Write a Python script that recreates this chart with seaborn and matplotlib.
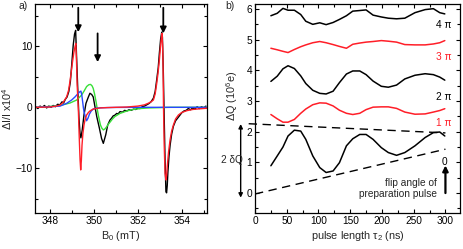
import numpy as np
import matplotlib
matplotlib.use("Agg")
import matplotlib.pyplot as plt
from matplotlib.ticker import MultipleLocator
import seaborn as sns

# -------------------------------------------------
# Panel a) spectra (values read from the figure)
# -------------------------------------------------
b_exp = [347.35, 347.45, 347.55, 347.65, 347.75, 347.85, 347.95, 348.05, 348.15,
         348.25, 348.35, 348.45, 348.55, 348.62, 348.7, 348.78, 348.86, 348.93,
         348.99, 349.06, 349.12, 349.17, 349.21, 349.26, 349.32, 349.37, 349.41,
         349.47, 349.55, 349.64, 349.75, 349.82, 349.9, 349.97, 350.05, 350.13,
         350.25, 350.35, 350.43, 350.54, 350.63, 350.73, 350.8, 350.88, 350.95,
         351.04, 351.1, 351.19, 351.3, 351.4, 351.5, 351.6, 351.7, 351.8, 351.9,
         352.0, 352.1, 352.2, 352.3, 352.4, 352.5, 352.6, 352.71, 352.79, 352.86,
         352.93, 352.98, 353.04, 353.09, 353.12, 353.16, 353.2, 353.24, 353.28,
         353.31, 353.34, 353.37, 353.42, 353.47, 353.54, 353.62, 353.72, 353.85,
         354.0, 354.1, 354.2, 354.3, 354.4, 354.5, 354.6, 354.7, 354.8, 354.9,
         355.0, 355.1]
signal_exp = [0.1, -0.2, 0.2, 0.0, 0.3, -0.1, 0.2, 0.0, 0.3,
              0.1, 0.5, 0.4, 0.9, 0.7, 1.3, 1.7, 2.6, 4.2,
              6.9, 10.2, 12.0, 12.6, 8.5, 3.6, -1.7, -4.3, -5.0,
              -3.7, -1.25, 0.65, 1.7, 2.3, 2.1, 1.7, 0.1, -1.5,
              -3.4, -5.1, -5.9, -4.5, -2.9, -2.1, -1.8, -1.4, -1.3,
              -1.0, -1.1, -0.7, -0.8, -0.5, -0.6, -0.4, -0.5, -0.3, -0.35,
              -0.15, -0.2, 0.1, 0.2, 0.4, 0.6, 0.9, 1.5, 2.6, 4.5,
              6.5, 8.8, 11.2, 12.3, 11.5, 6.0, -1.5, -8.6, -13.8,
              -14.0, -12.8, -10.6, -8.0, -6.2, -4.4, -3.1, -2.2, -1.6,
              -0.9, -0.6, -0.5, -0.2, -0.4, -0.1, -0.3, 0.1, -0.2, 0.1,
              -0.1, 0.2]

b_red = [347.35, 348.0, 348.3, 348.46, 348.6, 348.76, 348.85, 348.91, 348.97,
         349.03, 349.09, 349.14, 349.18, 349.21, 349.24, 349.29, 349.33, 349.37,
         349.4, 349.43, 349.46, 349.5, 349.55, 349.6, 349.67, 349.75, 349.82,
         349.97, 350.28, 350.6, 351.0, 351.5, 352.0, 352.3, 352.5, 352.62,
         352.71, 352.79, 352.86, 352.92, 352.98, 353.02, 353.06, 353.1, 353.13,
         353.15, 353.17, 353.2, 353.24, 353.28, 353.31, 353.34, 353.4, 353.47,
         353.54, 353.62, 353.72, 353.85, 354.0, 354.23, 354.5, 354.8, 355.15]
signal_red = [0.0, 0.05, 0.2, 0.37, 0.8, 1.7, 2.8, 4.2, 5.8,
              7.5, 9.0, 9.9, 10.45, 7.5, 3.6, 0.0, -4.5, -8.5,
              -10.25, -8.7, -6.2, -4.3, -2.9, -2.0, -1.25, -0.85, -0.6,
              -0.28, -0.1, -0.05, 0.0, 0.05, 0.2, 0.4, 0.7, 0.95,
              1.2, 2.2, 3.9, 5.6, 7.7, 9.4, 11.0, 12.1, 10.0,
              6.6, 0.0, -5.9, -10.8, -11.9, -11.2, -9.7, -7.3, -5.3,
              -3.9, -2.9, -1.9, -1.25, -0.85, -0.55, -0.35, -0.25, -0.15]

b_blue = [347.35, 348.0, 348.46, 348.76, 348.99, 349.14, 349.29, 349.36, 349.41,
          349.45, 349.49, 349.52, 349.55, 349.6, 349.67, 349.73, 349.8, 349.88,
          349.97, 350.1, 350.3, 350.6, 351.0, 352.0, 355.15]
signal_blue = [0.0, 0.1, 0.2, 0.65, 1.2, 1.7, 2.3, 2.55, 2.65,
               2.0, 0.9, 0.0, -0.7, -1.4, -2.2, -1.8, -1.1, -0.6,
               -0.3, -0.15, -0.08, -0.04, -0.02, 0.0, 0.0]

b_green = [347.35, 347.8, 348.2, 348.46, 348.91, 349.22, 349.44, 349.56, 349.67,
           349.77, 349.85, 349.92, 349.97, 350.03, 350.1, 350.15, 350.2, 350.25,
           350.3, 350.36, 350.43, 350.5, 350.58, 350.65, 350.73, 350.85, 350.96,
           351.19, 351.5, 351.8, 352.1, 352.5, 353.0, 353.5, 355.15]
signal_green = [0.0, 0.1, 0.2, 0.3, 0.7, 1.2, 2.0, 2.7, 3.4,
                3.7, 3.75, 3.5, 3.1, 2.2, 0.9, -0.2, -1.25, -2.1,
                -2.9, -3.4, -3.7, -3.55, -3.2, -2.8, -2.45, -1.9, -1.5,
                -1.0, -0.6, -0.35, -0.2, -0.1, -0.05, 0.0, 0.0]

# arrows marking the lines (field, tail, tip)
arrow_b = [349.29, 350.17, 353.16]
arrow_tail = [16.3, 12.1, 16.3]
arrow_tip = [12.3, 7.4, 12.1]

# -------------------------------------------------
# Panel b) charge vs pulse length
# -------------------------------------------------
tau = [25, 35, 44, 52, 62, 72, 80, 91, 102, 112, 123, 133, 144, 154, 165,
       175, 186, 199, 210, 223, 236, 252, 268, 281, 291, 299]
q_4pi = [5.78, 5.86, 6.02, 5.96, 5.96, 5.82, 5.6, 5.5, 5.55, 5.49, 5.56, 5.66,
         5.78, 5.93, 5.95, 5.97, 5.8, 5.74, 5.7, 5.68, 5.7, 5.88, 5.98, 6.01,
         5.88, 5.84]
q_3pi = [4.72, 4.67, 4.62, 4.58, 4.68, 4.77, 4.83, 4.9, 4.94, 4.9, 4.84, 4.78,
         4.72, 4.85, 4.89, 4.92, 4.94, 4.97, 4.95, 4.92, 4.84, 4.83, 4.83, 4.86,
         4.9, 4.97]
q_2pi = [3.64, 3.81, 4.05, 4.15, 4.06, 3.82, 3.57, 3.35, 3.25, 3.23, 3.32, 3.6,
         3.88, 3.98, 3.98, 3.86, 3.65, 3.48, 3.45, 3.52, 3.72, 3.84, 3.89, 3.86,
         3.78, 3.68]
q_1pi = [2.56, 2.42, 2.31, 2.31, 2.4, 2.6, 2.74, 2.88, 2.94, 2.93, 2.84, 2.7,
         2.6, 2.56, 2.6, 2.72, 2.8, 2.81, 2.81, 2.76, 2.64, 2.57, 2.58, 2.64,
         2.69, 2.75]
q_0 = [0.89, 1.21, 1.5, 1.86, 2.05, 2.02, 1.75, 1.21, 0.83, 0.67, 0.72, 0.99,
       1.54, 1.77, 1.91, 1.91, 1.75, 1.48, 1.32, 1.23, 1.32, 1.54, 1.81, 1.97,
       1.99, 1.86]

env_upper_tau = [-10, 300]
env_upper = [2.26, 1.96]
env_lower_tau = [0, 300]
env_lower = [-0.03, 1.43]

curve_labels = ["4 π", "3 π", "2 π", "1 π", "0"]
label_y = [5.48, 4.43, 3.14, 2.27, 1.02]

RED = "#ff1e28"
GREEN = "#38e038"
BLUE = "#2848ff"
FS = 7.3
FS_LABEL = 7.8

# -------------------------------------------------
# Figure
# -------------------------------------------------
sns.set_theme(style="ticks")
plt.rcParams["font.family"] = ["Liberation Sans", "DejaVu Sans"]
plt.rcParams["font.size"] = FS
plt.rcParams["mathtext.fontset"] = "custom"
plt.rcParams["mathtext.rm"] = "Liberation Sans"
plt.rcParams["mathtext.it"] = "Liberation Sans:italic"

fig = plt.figure(figsize=(4.63, 2.49), dpi=100)
ax_a = fig.add_axes([0.0756, 0.1446, 0.3715, 0.839])
ax_b = fig.add_axes([0.5508, 0.1446, 0.4428, 0.839])

# panel a
sns.lineplot(x=b_exp, y=signal_exp, ax=ax_a, color="black", linewidth=1.0)
sns.lineplot(x=b_green, y=signal_green, ax=ax_a, color=GREEN, linewidth=1.0)
sns.lineplot(x=b_blue, y=signal_blue, ax=ax_a, color=BLUE, linewidth=1.0)
sns.lineplot(x=b_red, y=signal_red, ax=ax_a, color=RED, linewidth=1.0)

for xb, y0, y1 in zip(arrow_b, arrow_tail, arrow_tip):
    ax_a.annotate("", xy=(xb, y1), xytext=(xb, y0),
                  arrowprops=dict(arrowstyle="-|>", color="black", lw=1.3,
                                  mutation_scale=9, shrinkA=0, shrinkB=0))

ax_a.set_xlim(347.32, 355.15)
ax_a.set_ylim(-17.3, 16.9)
ax_a.xaxis.set_major_locator(MultipleLocator(2))
ax_a.xaxis.set_minor_locator(MultipleLocator(1))
ax_a.yaxis.set_major_locator(MultipleLocator(10))
ax_a.yaxis.set_minor_locator(MultipleLocator(5))
ax_a.set_xlabel("B$_0$ (mT)", fontsize=FS_LABEL, labelpad=2)
ax_a.set_ylabel("ΔI/I x10$^4$", fontsize=FS_LABEL)
ax_a.yaxis.set_label_coords(-0.125, 0.5)

# panel b
sns.lineplot(x=tau, y=q_4pi, ax=ax_b, color="black", linewidth=1.1)
sns.lineplot(x=tau, y=q_3pi, ax=ax_b, color=RED, linewidth=1.1)
sns.lineplot(x=tau, y=q_2pi, ax=ax_b, color="black", linewidth=1.1)
sns.lineplot(x=tau, y=q_1pi, ax=ax_b, color=RED, linewidth=1.1)
sns.lineplot(x=tau, y=q_0, ax=ax_b, color="black", linewidth=1.1)
ax_b.plot(env_upper_tau, env_upper, color="black", lw=1.0, ls=(0, (6, 4)),
          clip_on=False)
ax_b.plot(env_lower_tau, env_lower, color="black", lw=1.0, ls=(0, (6, 4)))

label_colors = ["black", RED, "black", RED, "black"]
for txt, yy, cc in zip(curve_labels, label_y, label_colors):
    ax_b.text(298, yy, txt, color=cc, ha="center", va="center", fontsize=FS)

# flip-angle arrow and text
ax_b.annotate("", xy=(300, 0.9), xytext=(300, 0.0),
              arrowprops=dict(arrowstyle="-|>", color="black", lw=1.6,
                              mutation_scale=8, shrinkA=0, shrinkB=0))
ax_b.text(287, 0.15, "flip angle of\npreparation pulse", ha="right", va="center",
          linespacing=1.05, fontsize=FS)

# 2 dQ double arrow outside the axes
ax_b.annotate("", xy=(-22.6, 2.25), xytext=(-22.6, -0.15),
              annotation_clip=False,
              arrowprops=dict(arrowstyle="<|-|>", color="black", lw=1.0,
                              mutation_scale=6, shrinkA=0, shrinkB=0))
ax_b.text(-36, 1.07, "2 δQ", ha="center", va="center", clip_on=False,
          fontsize=FS)

ax_b.set_xlim(0, 323)
ax_b.set_ylim(-0.65, 6.16)
ax_b.xaxis.set_major_locator(MultipleLocator(50))
ax_b.xaxis.set_minor_locator(MultipleLocator(25))
ax_b.yaxis.set_major_locator(MultipleLocator(1))
ax_b.yaxis.set_minor_locator(MultipleLocator(0.5))
ax_b.set_xlabel("pulse length τ$_2$ (ns)", fontsize=FS_LABEL, labelpad=2)
ax_b.set_ylabel("ΔQ (10$^6$e)", fontsize=FS_LABEL)
ax_b.yaxis.set_label_coords(-0.075, 0.56)

for ax in (ax_a, ax_b):
    ax.tick_params(which="both", direction="in", top=True, right=True,
                   colors="black", labelsize=FS, pad=2)
    ax.tick_params(which="major", length=3, width=0.8)
    ax.tick_params(which="minor", length=2, width=0.8)
    for sp in ax.spines.values():
        sp.set_visible(True)
        sp.set_linewidth(0.9)
        sp.set_color("black")

fig.text(0.039, 0.975, "a)", ha="left", va="center", fontsize=7.5)
fig.text(0.487, 0.975, "b)", ha="left", va="center", fontsize=7.5)

fig.savefig("out.png", dpi=100)
